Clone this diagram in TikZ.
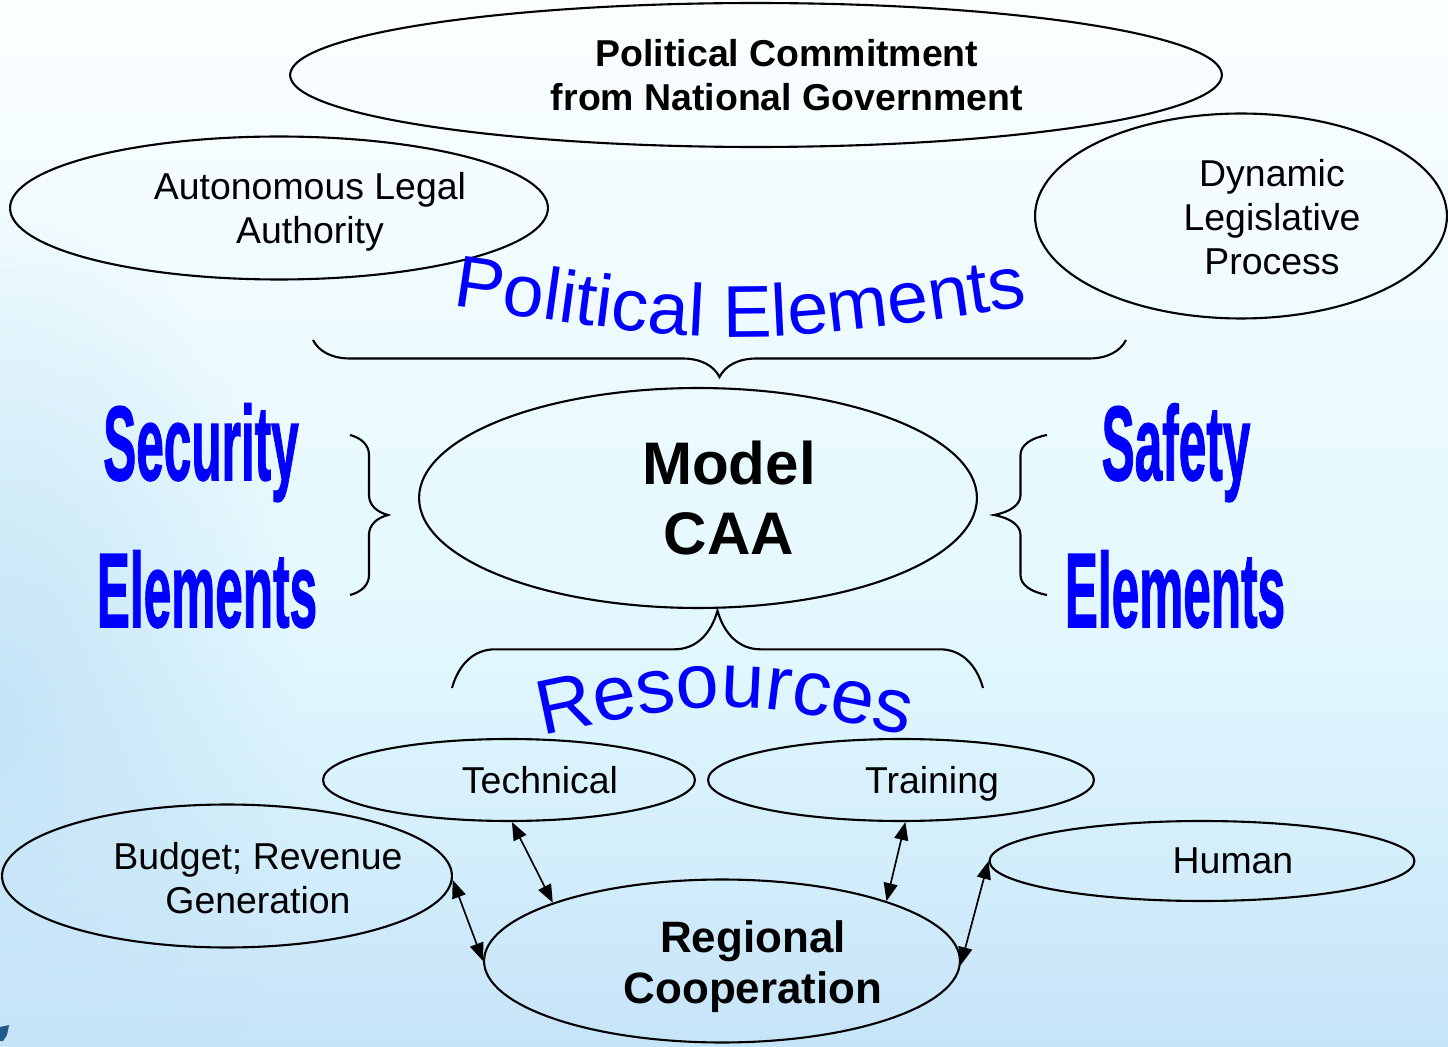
\documentclass[tikz,border=0pt]{standalone}
\usepackage{graphicx}
\usepackage{fontspec}
\setmainfont{Liberation Sans}
\newfontfamily\heavyfont{Liberation Sans}[BoldFeatures={FakeBold=1.5}]
\usetikzlibrary{shapes.geometric,arrows.meta,decorations.pathreplacing,decorations.text,fadings}

\definecolor{bgtop}{HTML}{FBFEFF}
\definecolor{bgmid}{HTML}{E2F8FE}
\definecolor{bgbot}{HTML}{C6E4F8}
\definecolor{bgside}{HTML}{C4E4F6}
\definecolor{bgmark}{HTML}{1E5A8A}
\definecolor{wordblue}{HTML}{0000FF}

\tikzfading[name=sidefade, inner color=transparent!0, outer color=transparent!100]

% tall condensed lettering
\newcommand{\tallword}[1]{\scalebox{0.75}[1.6]{#1}}

\tikzset{
  oval/.style={ellipse, draw, line width=1.2pt, inner sep=0pt},
  lbl/.style={align=center, font=\fontsize{21.3}{25}\selectfont},
  boldlbl/.style={align=center, font=\bfseries\fontsize{21.3}{25}\selectfont},
  link/.style={{Triangle[length=0.36cm,width=0.28cm]}-{Triangle[length=0.36cm,width=0.28cm]}, line width=0.95pt},
  curly/.style={decorate, line width=1.2pt},
  heavy/.style={text=wordblue, font=\heavyfont\bfseries\fontsize{37.6}{40}\selectfont, anchor=base, inner sep=0pt}
}

\begin{document}
\begin{tikzpicture}[x=0.02cm, y=-0.02cm]

\useasboundingbox (0,0) rectangle (1448,1047);
\shade[top color=bgtop, bottom color=bgmid] (0,0) rectangle (1448,640);
\shade[top color=bgmid, bottom color=bgbot] (0,640) rectangle (1448,1047);
\fill[bgside, path fading=sidefade] (0,720) ellipse (300 and 520);
\fill[bgmark] (0,1027) -- (9,1025) -- (7,1035) -- (3,1041) -- (0,1041) -- cycle;

% political ring
\node[oval, minimum width=18.64cm, minimum height=2.88cm] (commit) at (756,75) {};
\node[boldlbl] (commit-t) at ([xshift=0.62cm]commit.center) {Political Commitment\\from National Government};

\node[oval, minimum width=10.76cm, minimum height=2.86cm] (legal) at (279,208) {};
\node[lbl] (legal-t) at ([xshift=0.62cm, yshift=-0.08cm]legal.center) {Autonomous Legal\\Authority};

\node[oval, minimum width=8.24cm, minimum height=4.1cm] (legis) at (1241,216) {};
\node[lbl] (legis-t) at ([xshift=0.62cm, yshift=-0.02cm]legis.center) {Dynamic\\Legislative\\Process};

\path[decorate, decoration={text along path, text align=center, text color=wordblue,
  text={|\fontsize{41.8}{45}\selectfont|Political Elements}}]
  (420,301) .. controls (740,349) .. (1060,301);
\draw[curly, decoration={brace, amplitude=0.74cm}] (1126,340) -- (313,340);

% centre
\node[oval, minimum width=11.16cm, minimum height=4.4cm] (caa) at (698,498) {};
\node[align=center, font=\bfseries\fontsize{34.2}{39.8}\selectfont] (caa-t) at ([xshift=0.62cm]caa.center) {Model\\CAA};

% side elements
\node[heavy] (sec1) at (201,480) {\tallword{Security}};
\node[heavy] (sec2) at (207,627) {\tallword{Elements}};
\draw[curly, decoration={brace, amplitude=0.4cm, transform={yscale=1.9}}] (350,435) -- (350,595);

\node[heavy] (saf1) at (1176,480) {\tallword{Safety}};
\node[heavy] (saf2) at (1175,627) {\tallword{Elements}};
\draw[curly, decoration={brace, amplitude=0.4cm, transform={yscale=2.65}}] (1047,595) -- (1047,435);

% resources
\draw[curly, decoration={brace, amplitude=0.86cm, transform={yscale=1.8}}] (452,688) -- (983,688);
\path[decorate, decoration={text along path, text align=center, text color=wordblue,
  text={|\fontsize{44}{48}\selectfont|Resources}}]
  (520,740) .. controls (725,696) .. (930,740);

\node[oval, minimum width=7.44cm, minimum height=1.64cm] (tech) at (509,780) {};
\node[lbl] (tech-t) at ([xshift=0.62cm]tech.center) {Technical};

\node[oval, minimum width=7.72cm, minimum height=1.64cm] (train) at (901,780) {};
\node[lbl] (train-t) at ([xshift=0.62cm, yshift=-0.08cm]train.center) {Training};

\node[oval, minimum width=9.0cm, minimum height=2.86cm] (budget) at (227,876) {};
\node[lbl] (budget-t) at ([xshift=0.62cm, yshift=-0.04cm]budget.center) {Budget; Revenue\\Generation};

\node[oval, minimum width=8.5cm, minimum height=1.6cm] (human) at (1202,861) {};
\node[lbl] (human-t) at ([xshift=0.62cm]human.center) {Human};

\node[oval, minimum width=9.52cm, minimum height=3.26cm] (region) at (722,961) {};
\node[align=center, font=\bfseries\fontsize{25}{29}\selectfont] (region-t) at ([xshift=0.62cm, yshift=-0.12cm]region.center) {Regional\\Cooperation};

\draw[link] (tech.-86) -- (region.161);
\draw[link] (train.-84) -- (region.20);
\draw[link] (budget.-1) -- (region.180);
\draw[link] (human.180) -- (region.-1);

\end{tikzpicture}
\end{document}
